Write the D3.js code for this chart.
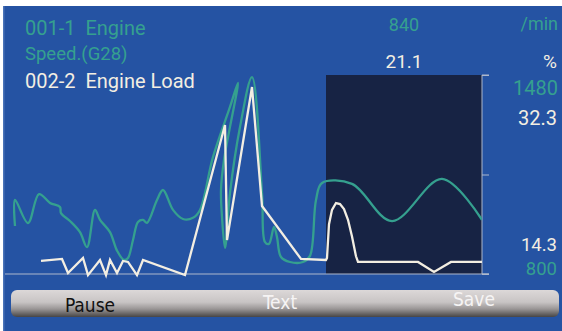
<!DOCTYPE html>
<html><head><meta charset="utf-8">
<script src="https://cdn.jsdelivr.net/npm/d3@7"></script>
<style>
html,body{margin:0;padding:0;background:#fff;}
svg{display:block;}
text{white-space:pre;}
</style></head>
<body>
<script>
// ---- data ----
const speedLabel1 = "001-1  Engine";
const speedLabel2 = "Speed.(G28)";
const loadLabel = "002-2  Engine Load";
const speedUnit = "/min";
const loadUnit = "%";
const speedCurrent = "840";
const loadCurrent = "21.1";
const speedRange = [800, 1480];
const loadRange = [14.3, 32.3];
const timeRange = [0, 46.7];
const cursorWindow = [31.1, 46.7];
const buttons = ["Pause", "Text", "Save"];

// Engine speed (time s, rpm)
const speedT = [0,0,1.3,2.4,3.5,4.5,4.6,5.5,6.5,7.2,8.0,8.5,9.5,10.2,10.9,11.3,11.8,12.3,12.8,13.2,14.2,14.8,15.8,16.8,17.8,18.5,19.8,21.5,22.3,20.9,20.6,20.7,21.0,21.5,22.5,23.7,24.7,25.0,25.4,25.9,26.2,26.6,27.5,28.8,29.5,30.1,30.7,33.7,37.7,42.7,46.7];
const speedV = [964,1053,974,1073,1043,1029,1008,981,943,892,1019,985,943,880,848,855,916,978,985,975,1053,1087,1019,988,992,1019,1200,1371,1453,1190,1087,995,889,1077,1302,1473,1077,909,903,961,926,858,841,841,862,1053,1111,1108,981,1125,985];

// Engine load (time s, %)
const loadT = [2.6,4.7,5.3,6.8,7.3,8.5,9.1,9.5,10.2,10.8,11.3,12.2,12.8,17.0,21.0,21.2,23.7,24.7,28.6,31.1,31.2,31.4,31.7,32.1,32.5,32.9,33.3,33.7,34.1,34.3,40.3,41.9,43.6,46.7];
const loadV = [15.48,15.66,14.39,15.75,14.2,15.57,14.2,15.57,14.39,15.48,15.39,14.2,15.57,14.2,27.78,17.38,31.21,20.45,15.66,15.57,15.75,18.8,20.1,20.72,20.63,20.18,19.2,17.7,15.9,15.4,15.39,14.48,15.39,15.39];

// ---- drawing ----
const W = 562, H = 331;
const svg = d3.select("body").append("svg").attr("width", W).attr("height", H);

const blue = "#2553a3", green = "#35a08f", whiteLine = "#f3eee2";

svg.append("rect").attr("width", W).attr("height", H).attr("fill", "#ffffff");
svg.append("rect").attr("x", 3).attr("y", 6).attr("width", W - 3).attr("height", H - 6).attr("fill", blue);
svg.append("rect").attr("x", 3).attr("y", 6).attr("width", 1.5).attr("height", H - 6).attr("fill", "#4a73b8");

const plotL = 15, plotR = 482, plotT = 75, plotB = 274;
const x = d3.scaleLinear().domain(timeRange).range([plotL, plotR]);
const ySpeed = d3.scaleLinear().domain(speedRange).range([plotB, plotT]);
const yLoad = d3.scaleLinear().domain(loadRange).range([plotB, plotT]);

// cursor window
svg.append("rect")
  .attr("x", x(cursorWindow[0])).attr("y", plotT)
  .attr("width", x(cursorWindow[1]) - x(cursorWindow[0])).attr("height", plotB - plotT)
  .attr("fill", "#172344");

// right axis
const axis = d3.axisRight(ySpeed)
  .tickValues([speedRange[0], (speedRange[0] + speedRange[1]) / 2, speedRange[1]])
  .tickSize(7).tickFormat("");
const ag = svg.append("g").attr("transform", `translate(${plotR},0)`).call(axis);
ag.selectAll("path,line").attr("stroke", "#aeb8cc").attr("stroke-width", 1);
ag.select(".domain").attr("d", `M7,${plotT}H0V${plotB}H7`);

// baseline
svg.append("line").attr("x1", 5).attr("x2", plotR + 7).attr("y1", plotB).attr("y2", plotB)
  .attr("stroke", "#aeb8cc").attr("stroke-width", 1);

// lines
const speedData = speedT.map((t, i) => [t, speedV[i]]);
const loadData = loadT.map((t, i) => [t, loadV[i]]);

svg.append("clipPath").attr("id", "clip").append("rect")
  .attr("x", plotL - 2).attr("y", plotT - 10).attr("width", plotR - plotL + 2).attr("height", plotB - plotT + 12);

svg.append("path").datum(speedData)
  .attr("clip-path", "url(#clip)")
  .attr("d", d3.line().x(d => x(d[0])).y(d => ySpeed(d[1])).curve(d3.curveCatmullRom.alpha(0.5)))
  .attr("fill", "none").attr("stroke", green).attr("stroke-width", 2.3);

svg.append("path").datum(loadData)
  .attr("d", d3.line().x(d => x(d[0])).y(d => yLoad(d[1])))
  .attr("fill", "none").attr("stroke", whiteLine).attr("stroke-width", 2.3)
  .attr("stroke-linejoin", "miter");

// texts
const font = "Roboto, 'Open Sans', sans-serif";
function txt(s, xx, yy, size, fill, anchor) {
  svg.append("text").attr("x", xx).attr("y", yy).text(s)
    .attr("font-family", font).attr("font-size", size).attr("fill", fill)
    .attr("text-anchor", anchor || "start");
}
txt(speedLabel1, 25, 35, 20, green);
txt(speedLabel2, 25, 60, 18.5, green);
txt(loadLabel, 25, 88, 20, "#f3eee2");

const midX = (x(cursorWindow[0]) + x(cursorWindow[1])) / 2;
txt(speedCurrent, midX, 31, 18, green, "middle");
txt(loadCurrent, midX, 68, 19, "#f3eee2", "middle");
txt(speedUnit, 558, 30, 18, green, "end");
txt(loadUnit, 557, 68, 19, "#f3eee2", "end");
txt(String(speedRange[1]), 558, 95, 20, green, "end");
txt(String(loadRange[1]), 557, 125, 20, "#f3eee2", "end");
txt(String(loadRange[0]), 557, 251, 18.5, "#f3eee2", "end");
txt(String(speedRange[0]), 557, 274.5, 18.5, green, "end");

// button bar
const defs = svg.append("defs");
const lg = defs.append("linearGradient").attr("id", "btn").attr("x1", 0).attr("y1", 0).attr("x2", 0).attr("y2", 1);
lg.append("stop").attr("offset", "0%").attr("stop-color", "#dcd8d8");
lg.append("stop").attr("offset", "45%").attr("stop-color", "#c8c4c4");
lg.append("stop").attr("offset", "70%").attr("stop-color", "#9a9696");
lg.append("stop").attr("offset", "100%").attr("stop-color", "#474545");
svg.append("rect").attr("x", 11).attr("y", 290).attr("width", 548).attr("height", 27)
  .attr("rx", 6).attr("fill", "url(#btn)");

const bfont = "'DejaVu Sans Condensed', 'Liberation Sans Narrow', sans-serif";
const bpos = [[90, 312, "#111"], [280, 309, "#f6f4f4"], [474, 306, "#f6f4f4"]];
buttons.forEach((b, i) => {
  svg.append("text").attr("x", bpos[i][0]).attr("y", bpos[i][1]).text(b)
    .attr("font-family", bfont).attr("font-size", 19).attr("font-weight", "normal")
    .attr("fill", bpos[i][2]).attr("text-anchor", "middle");
});
</script>
</body></html>
